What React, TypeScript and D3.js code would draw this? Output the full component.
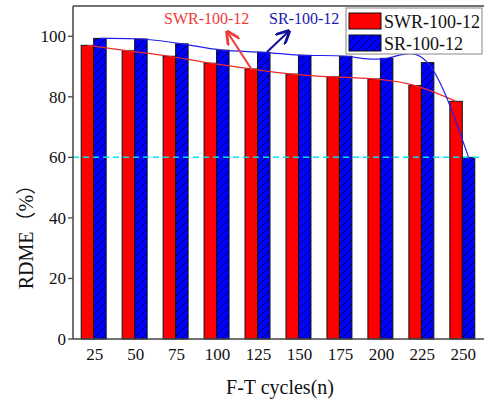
import React from "react";
import * as d3 from "d3";

const categories = ["25", "50", "75", "100", "125", "150", "175", "200", "225", "250"];
const swrValues = [97.0, 95.2, 93.4, 91.1, 89.2, 87.5, 86.6, 85.9, 83.7, 78.5];
const srValues = [99.3, 99.1, 97.5, 95.4, 94.7, 93.7, 93.4, 92.7, 91.3, 60.0];
const yTicks = [0, 20, 40, 60, 80, 100];
const seriesNames = ["SWR-100-12", "SR-100-12"];
const thresholdValue = 60;

const W = 484;
const H = 399;
const L = 73;
const R = 483;
const T = 6;
const B = 339;
const serif = "'Liberation Serif', 'Times New Roman', serif";

export default function App() {
  const y = d3.scaleLinear().domain([0, 110]).range([B, T]);
  const x = d3.scaleBand<string>().domain(categories).range([L, R]).paddingInner(0.39).paddingOuter(0.2);
  const inner = d3.scaleBand<string>().domain(seriesNames).range([0, x.bandwidth()]);
  const bw = inner.bandwidth();

  const line = d3
    .line<[number, number]>()
    .x((d) => d[0])
    .y((d) => d[1])
    .curve(d3.curveNatural);

  const redPts: [number, number][] = categories.map((c, i) => [
    (x(c) as number) + (inner(seriesNames[0]) as number) + bw / 2,
    y(swrValues[i]),
  ]);
  const bluePts: [number, number][] = categories.map((c, i) => [
    (x(c) as number) + (inner(seriesNames[1]) as number) + bw / 2,
    y(srValues[i]),
  ]);

  return (
    <svg
      width={W}
      height={H}
      style={{ position: "absolute", left: 0, top: 0, display: "block", background: "#fff" }}
    >
      <defs>
        <pattern id="hatch" patternUnits="userSpaceOnUse" width="8" height="8">
          <rect width="8" height="8" fill="#0000ff" />
          <path d="M-2,2 L2,-2 M0,8 L8,0 M6,10 L10,6" stroke="#000040" strokeWidth="0.9" />
        </pattern>
        <marker id="arrRed" viewBox="0 0 10 10" refX="8" refY="5" markerWidth="7" markerHeight="7" orient="auto">
          <path d="M0,0 L10,5 L0,10" fill="none" stroke="#ee3a3a" strokeWidth="2" />
        </marker>
        <marker id="arrBlue" viewBox="0 0 10 10" refX="8" refY="5" markerWidth="7" markerHeight="7" orient="auto">
          <path d="M0,0 L10,5 L0,10" fill="none" stroke="#10109a" strokeWidth="2" />
        </marker>
      </defs>

      {/* bars */}
      {categories.map((c, i) => (
        <g key={c}>
          <rect
            x={(x(c) as number) + (inner(seriesNames[0]) as number)}
            y={y(swrValues[i])}
            width={bw}
            height={B - y(swrValues[i])}
            fill="#ff0000"
            stroke="#111"
            strokeWidth={1}
          />
          <rect
            x={(x(c) as number) + (inner(seriesNames[1]) as number)}
            y={y(srValues[i])}
            width={bw}
            height={B - y(srValues[i])}
            fill="url(#hatch)"
            stroke="#111"
            strokeWidth={1}
          />
        </g>
      ))}

      {/* threshold */}
      <line
        x1={L}
        x2={R}
        y1={y(thresholdValue)}
        y2={y(thresholdValue)}
        stroke="#00e4ee"
        strokeWidth={1.5}
        strokeDasharray="6,4"
      />

      {/* curves */}
      <path d={line(redPts) || ""} fill="none" stroke="#ee2a2a" strokeWidth={1.2} />
      <path d={line(bluePts) || ""} fill="none" stroke="#2020ee" strokeWidth={1.2} />

      {/* frame / axes */}
      <line x1={L} x2={W} y1={T} y2={T} stroke="#444" strokeWidth={1.5} />
      <line x1={L} x2={L} y1={T} y2={B} stroke="#444" strokeWidth={1.5} />
      <line x1={L} x2={W} y1={B} y2={B} stroke="#444" strokeWidth={1.5} />

      {yTicks.map((t) => (
        <g key={t}>
          <line x1={L - 5} x2={L} y1={y(t)} y2={y(t)} stroke="#444" strokeWidth={1.3} />
          <text
            x={L - 7}
            y={y(t)}
            dy="0.35em"
            textAnchor="end"
            fontFamily={serif}
            fontSize={17}
            fill="#111"
          >
            {t}
          </text>
        </g>
      ))}
      {categories.map((c) => (
        <text
          key={c}
          x={(x(c) as number) + x.bandwidth() / 2 + 1}
          y={360}
          textAnchor="middle"
          fontFamily={serif}
          fontSize={17}
          fill="#111"
        >
          {c}
        </text>
      ))}

      <text x={280} y={394} textAnchor="middle" fontFamily={serif} fontSize={20} fill="#111">
        F-T cycles(n)
      </text>
      <text
        transform={`translate(33,232) rotate(-90)`}
        textAnchor="middle"
        fontFamily={`${serif}, 'Noto Sans CJK SC'`}
        fontSize={20}
        fill="#111"
      >
        RDME（%）
      </text>

      {/* annotations */}
      <text x={164} y={24} fontFamily={serif} fontSize={16} fill="#ee3a3a">
        {seriesNames[0]}
      </text>
      <text x={269} y={24} fontFamily={serif} fontSize={16} fill="#1a1ab0">
        {seriesNames[1]}
      </text>
      <line x1={252} y1={70} x2={228} y2={33} stroke="#ee3a3a" strokeWidth={2} markerEnd="url(#arrRed)" />
      <line x1={267} y1={52} x2={288} y2={32} stroke="#10109a" strokeWidth={2} markerEnd="url(#arrBlue)" />

      {/* legend */}
      <rect x={346} y={8} width={136} height={46} fill="#fff" stroke="#888" strokeWidth={1} />
      <rect x={349} y={13} width={32} height={16} fill="#ff0000" stroke="#111" strokeWidth={1} />
      <rect x={349} y={35} width={32} height={16} fill="url(#hatch)" stroke="#111" strokeWidth={1} />
      <text x={384} y={28} fontFamily={serif} fontSize={18} fill="#111">
        {seriesNames[0]}
      </text>
      <text x={384} y={50} fontFamily={serif} fontSize={18} fill="#111">
        {seriesNames[1]}
      </text>
    </svg>
  );
}
